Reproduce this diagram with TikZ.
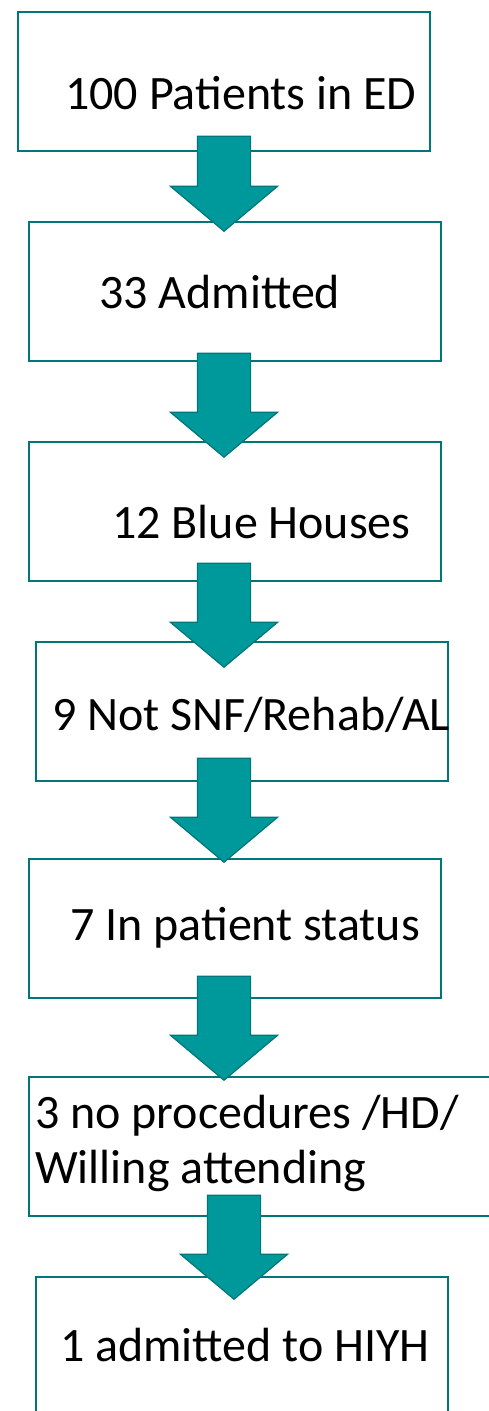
\documentclass[tikz,border=0pt]{standalone}
\usepackage{fontspec}
\setmainfont{Carlito}
\definecolor{bordaCaixa}{RGB}{0,118,120}
\definecolor{tealSeta}{RGB}{0,153,155}
\definecolor{bordaSeta}{RGB}{0,118,120}
\usetikzlibrary{shapes.arrows,positioning}
\tikzset{
  caixa/.style={rectangle, draw=bordaCaixa, line width=2.4pt, fill=white,
                inner sep=0pt, anchor=north west,
                minimum width=412pt, minimum height=139pt},
  rotulo/.style={inner sep=0pt, anchor=base west, align=left,
                 font=\fontsize{48}{55}\selectfont},
  seta/.style={single arrow, shape border rotate=270, draw=bordaSeta,
               line width=1.2pt, fill=tealSeta, inner sep=26pt,
               minimum width=106pt, minimum height=95pt,
               single arrow head extend=27pt, single arrow tip angle=100,
               anchor=tip},
}
\begin{document}
\begin{tikzpicture}[x=1pt, y=-1pt]
  \useasboundingbox (0,0) rectangle (489,1411);
  \clip (0,0) rectangle (489,1411);
  % caixas
  \node[caixa] (b1) at (17,11) {};
  \node[caixa] (b2) at (28,221) {};
  \node[caixa] (b3) at (28,441) {};
  \node[caixa] (b4) at (35,641) {};
  \node[caixa] (b5) at (28,858) {};
  \node[caixa, minimum width=480pt] (b6) at (28,1076) {};
  \node[caixa, minimum height=160pt] (b7) at (35,1276) {};
  % textos
  \node[rotulo] (t1) at (65,109) {100 Patients in ED};
  \node[rotulo] (t2) at (99,308) {33 Admitted};
  \node[rotulo] (t3) at (112,538) {12 Blue Houses};
  \node[rotulo] (t4) at (52,730) {9 Not SNF/Rehab/AL};
  \node[rotulo] (t5) at (70,940) {7 In patient status};
  \node[rotulo] (t6) at (35,1183) {3 no procedures /HD/\\Willing attending};
  \node[rotulo] (t7) at (60,1361) {1 admitted to HIYH};
  % setas
  \node[seta] (s1) at (224,232) {};
  \node[seta, minimum height=104pt] (s2) at (224,458) {};
  \node[seta, minimum height=104pt] (s3) at (224,668) {};
  \node[seta, minimum height=104pt] (s4) at (224,863) {};
  \node[seta, minimum height=104pt] (s5) at (224,1081) {};
  \node[seta, minimum height=104pt] (s6) at (234,1300) {};
\end{tikzpicture}
\end{document}
